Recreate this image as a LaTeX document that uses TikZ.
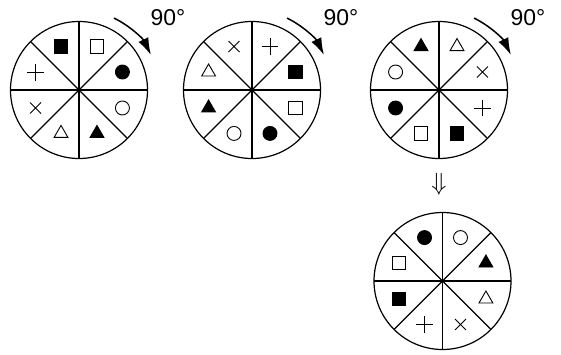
\documentclass[tikz,border=0pt]{standalone}
\usepackage{fontspec}
\newfontfamily\labelfont{Liberation Sans}
\usetikzlibrary{arrows.meta,positioning,shapes.geometric,shapes.misc}

\begin{document}
\begin{tikzpicture}[
    x=1bp, y=1bp,
    disc/.style={draw, circle, line width=1.2bp, minimum size=137bp, inner sep=0pt, outer sep=0pt},
    spoke/.style={line width=1.1bp},
    sym/.style={inner sep=0pt, outer sep=0pt, line width=0.9bp},
    osq/.style={sym, draw, rectangle, minimum size=13.5bp},
    bsq/.style={osq, fill=black},
    ocirc/.style={sym, draw, circle, minimum size=14bp},
    bcirc/.style={ocirc, fill=black},
    otri/.style={sym, draw, regular polygon, regular polygon sides=3, minimum size=16bp},
    btri/.style={otri, fill=black},
    xcross/.style={sym, draw, cross out, minimum size=11bp},
    pcross/.style={xcross, rotate=45, minimum size=12bp},
    turn/.style={-{Latex[length=17bp, width=11bp]}, line width=1.5bp},
    deg/.style={font=\labelfont\fontsize{23}{23}\selectfont, inner sep=0pt}
]
\useasboundingbox (0,0) rectangle (561,-354);

\node[disc] (c1) at (79,-90) {};
\node[disc, right=36bp of c1] (c2) {};
\node[disc, right=50bp of c2] (c3) {};
\node[disc, below=54bp of c3, xshift=3.5bp] (c4) {};
\node[inner sep=0pt, font=\fontsize{26}{26}\selectfont, below=15bp of c3] (dn) {$\Downarrow$};

\foreach \c in {c1,c2,c3,c4} {
  \foreach \ang in {0,45,90,135} {
    \pgfmathtruncatemacro\opp{\ang+180}
    \draw[spoke] (\c.\ang) -- (\c.\opp);
  }
}

\foreach \c/\syms in {c1/{osq,bcirc,ocirc,btri,otri,xcross,pcross,bsq},
                      c2/{pcross,bsq,osq,bcirc,ocirc,btri,otri,xcross},
                      c3/{otri,xcross,pcross,bsq,osq,bcirc,ocirc,btri},
                      c4/{ocirc,btri,otri,xcross,pcross,bsq,osq,bcirc}} {
  \foreach \s [count=\k] in \syms {
    \pgfmathsetmacro\dir{112.5-45*\k}
    \path (\c) ++(\dir:47) node[\s] (\c-\k) {};
  }
}

\foreach \c in {c1,c2,c3} {
  \draw[turn] (\c) ++(64:80) arc[start angle=64, end angle=26, radius=80];
  \path (\c) ++(89,72) node[deg] (\c-deg) {90°};
}
\end{tikzpicture}
\end{document}
